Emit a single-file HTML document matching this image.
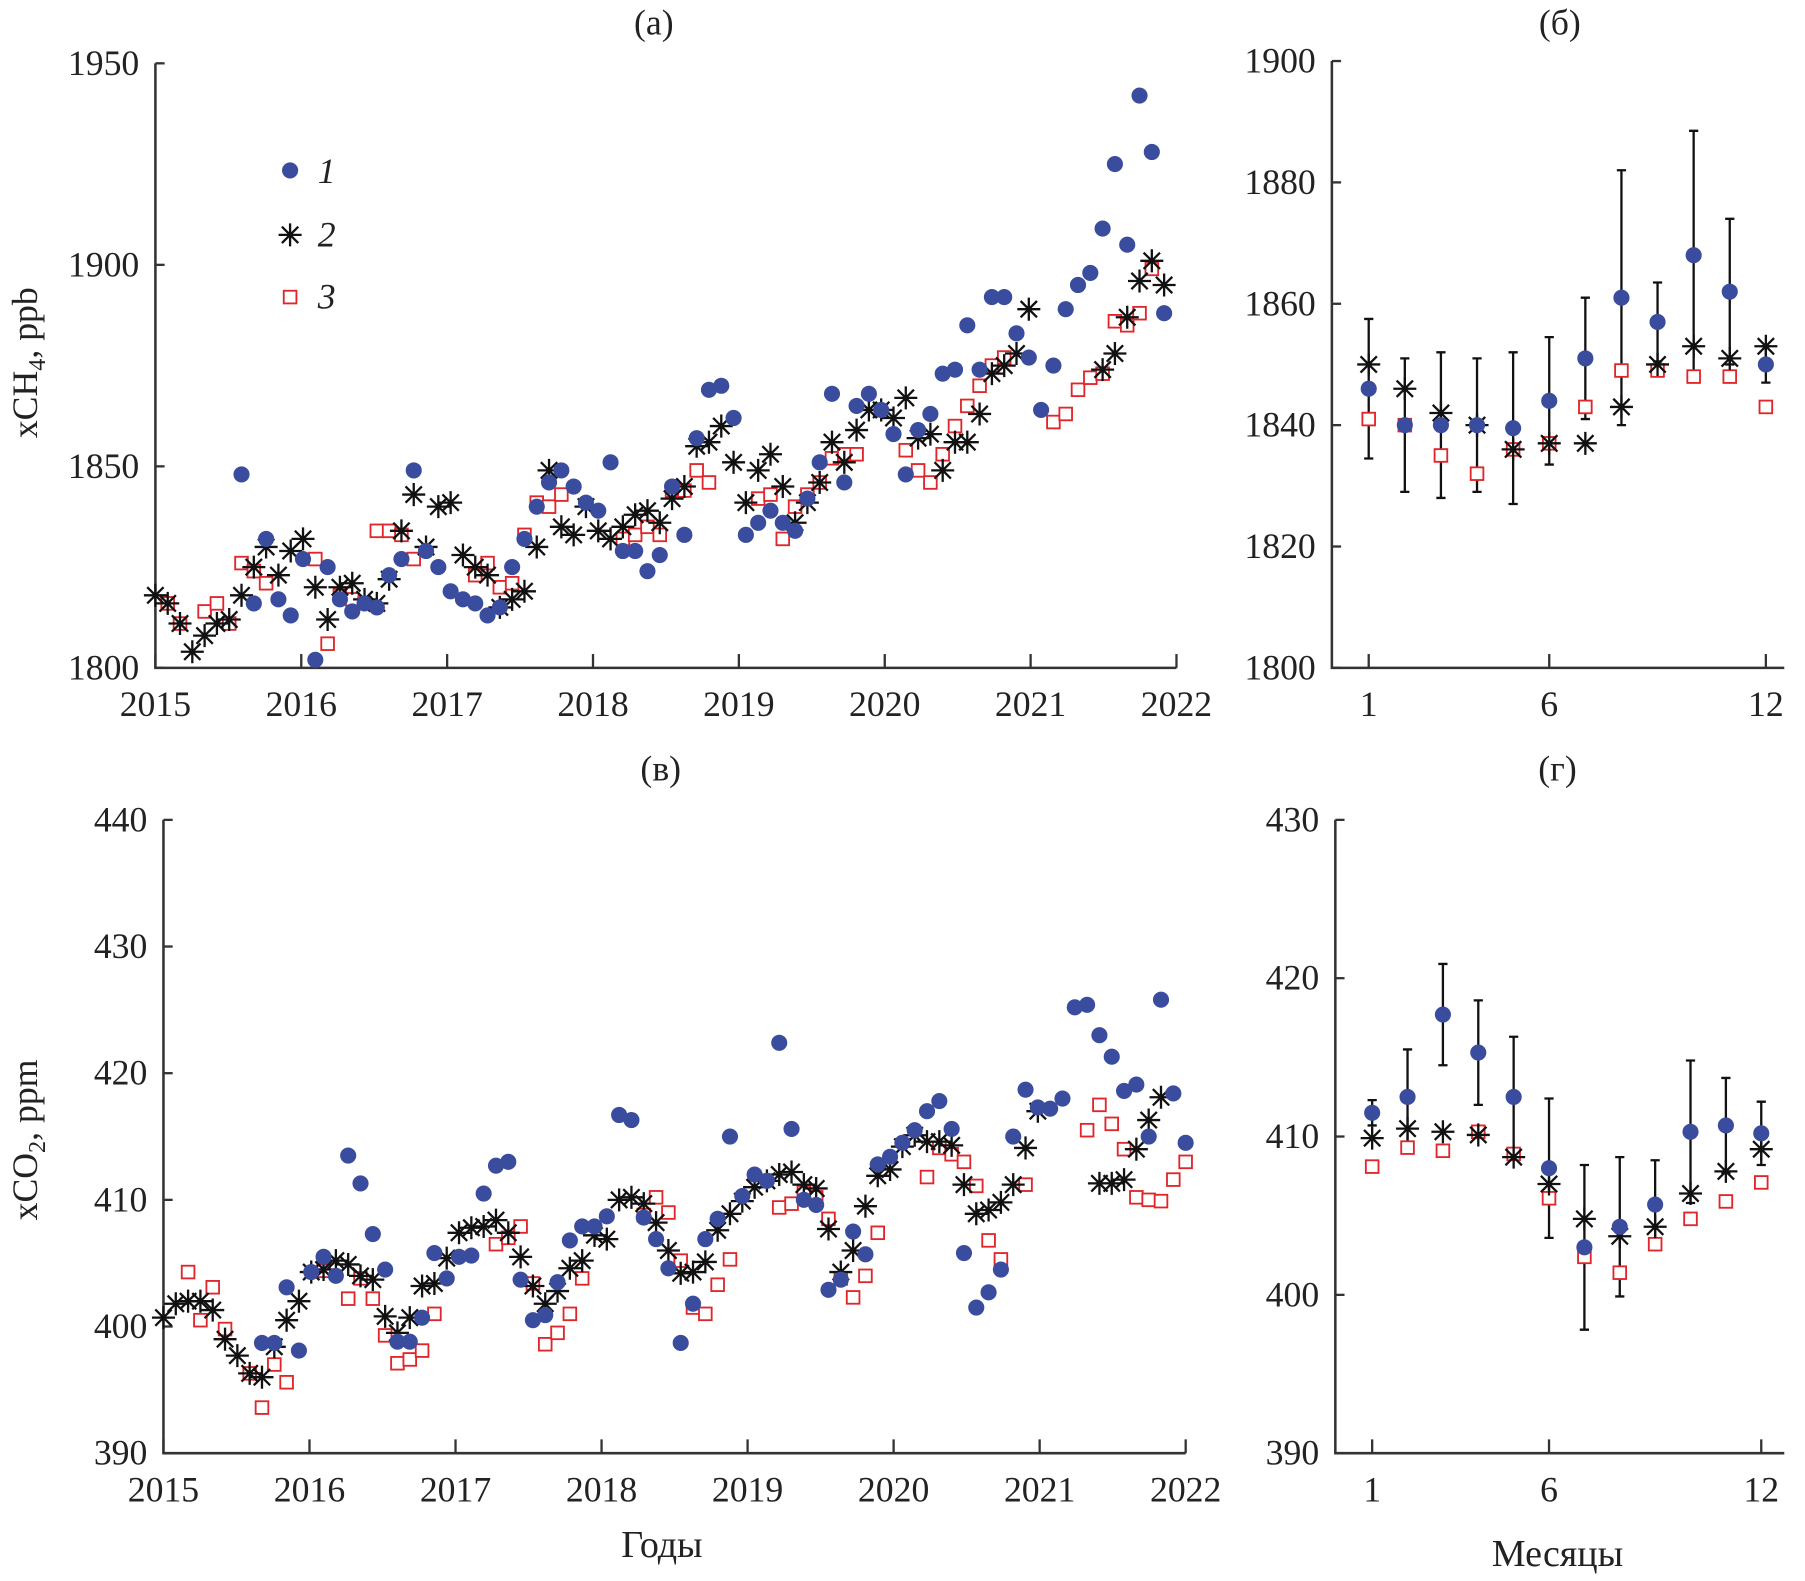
<!DOCTYPE html>
<html><head><meta charset="utf-8"><style>
html,body{margin:0;padding:0;background:#fff;}
svg{display:block;}
text{font-family:"Liberation Serif",serif;fill:#222;}
</style></head><body>
<svg id="chart" width="1805" height="1581" viewBox="0 0 1568 1373" preserveAspectRatio="none" xmlns="http://www.w3.org/2000/svg"></svg>
<script>
// ---- Data ----
const N = null;
const ch4Sat = [N,N,N,N,N,N,N,1848,1816,1832,1817,1813,1827,1802,1825,1817,1814,1816,1815,1823,1827,1849,1829,1825,1819,1817,1816,1813,1815,1825,1832,1840,1846,1849,1845,1841,1839,1851,1829,1829,1824,1828,1845,1833,1857,1869,1870,1862,1833,1836,1839,1836,1834,1842,1851,1868,1846,1865,1868,1864,1858,1848,1859,1863,1873,1874,1885,1874,1892,1892,1883,1877,1864,1875,1889,1895,1898,1909,1925,1905,1942,1928,1888,N];
const ch4Model = [1818,1816,1811,1804,1808,1811,1812,1818,1825,1830,1823,1829,1832,1820,1812,1820,1821,1817,1816,1822,1834,1843,1830,1840,1841,1828,1825,1823,1815,1817,1819,1830,1849,1835,1833,1840,1834,1832,1835,1838,1839,1836,1842,1845,1855,1856,1860,1851,1841,1849,1853,1845,1836,1841,1846,1856,1851,1859,1864,1864,1862,1867,1857,1858,1849,1856,1856,1863,1873,1875,1878,1889,N,N,N,N,N,1874,1878,1887,1896,1901,1895,N];
const ch4Ref = [N,1816,1811,N,1814,1816,1811,1826,1824,1821,N,N,N,1827,1806,1818,1817,1816,1834,1834,1833,1827,N,N,N,N,1823,1826,1820,1821,1833,1841,1840,1843,N,N,N,N,1832,1833,1835,1833,1844,1844,1849,1846,N,N,N,1842,1843,1832,1840,1843,1846,1852,1853,1853,N,N,N,1854,1849,1846,1853,1860,1865,1870,1875,1877,N,N,N,1861,1863,1869,1872,1873,1886,1885,1888,1899,N,N];
const months = [1,2,3,4,5,6,7,8,9,10,11,12];
const ch4MonSat = [1846,1840,1840,1840,1839.5,1844,1851,1861,1857,1868,1862,1850];
const ch4MonErr = [11.5,11,12,11,12.5,10.5,10,21,6.5,20.5,12,3];
const ch4MonModel = [1850,1846,1842,1840,1836,1837,1837,1843,1850,1853,1851,1853];
const ch4MonRef = [1841,1840,1835,1832,1836,1837,1843,1849,1849,1848,1848,1843];
const co2Sat = [N,N,N,N,N,N,N,N,398.7,398.7,403.1,398.1,404.3,405.5,404,413.5,411.3,407.3,404.5,398.8,398.8,400.7,405.8,403.8,405.5,405.6,410.5,412.7,413,403.7,400.5,400.9,403.5,406.8,407.9,407.9,408.7,416.7,416.3,408.6,406.9,404.6,398.7,401.8,406.9,408.5,415,410.3,412,411.5,422.4,415.6,410,409.6,402.9,403.7,407.5,405.7,412.8,413.4,414.5,415.5,417,417.8,415.6,405.8,401.5,402.7,404.5,415,418.7,417.3,417.2,418,425.2,425.4,423,421.3,418.6,419.1,415,425.8,418.4,414.5];
const co2Model = [400.7,401.8,402,402,401.3,399,397.7,396.3,396,398.4,400.5,402,404.3,404.5,405.2,404.9,404,403.7,400.8,399.5,400.7,403.2,403.4,405.4,407.4,407.8,407.9,408.4,407.4,405.5,403.2,401.8,402.8,404.6,405.2,407.2,406.9,410,410.2,409.7,408.2,406,404.2,404.3,405.1,407.6,408.9,409.9,411,411.5,412,412.2,411.2,410.9,407.7,404.3,406,409.5,411.9,412.4,414.2,415.1,414.6,414.6,414.3,411.2,408.9,409.2,409.8,411.2,414.1,417,N,N,N,N,411.3,411.3,411.6,414,416.3,418.1,N,N];
const co2Ref = [N,N,404.3,400.5,403.1,399.8,N,396.3,393.6,397,395.6,N,N,404.4,N,402.2,403.8,402.2,399.3,397.1,397.4,398.1,401,N,N,N,N,406.5,407,407.9,403.4,398.6,399.5,401,403.8,N,N,N,N,408.8,410.2,409,405.2,401.5,401,403.3,405.3,N,N,N,409.4,409.7,410.6,410.2,408.5,403.8,402.3,404,407.4,N,N,N,411.8,414.1,413.6,413,411.1,406.8,405.3,N,411.2,N,N,N,N,415.5,417.5,416,414,410.2,410,409.9,411.6,413];
const co2MonSat = [411.5,412.5,417.7,415.3,412.5,408,403,404.3,405.7,410.3,410.7,410.2];
const co2MonErr = [0.8,3,3.2,3.3,3.8,4.4,5.2,4.4,2.8,4.5,3,2];
const co2MonModel = [409.9,410.5,410.3,410.1,408.7,407,404.8,403.7,404.3,406.4,407.8,409.2];
const co2MonRef = [408.1,409.3,409.1,410.3,408.9,406.1,402.4,401.4,403.2,404.8,405.9,407.1];
const yearTicks = [2015,2016,2017,2018,2019,2020,2021,2022];
const monthTicks = [1,6,12];
const ch4Ticks = [1800,1850,1900,1950];
const ch4MonTicks = [1800,1820,1840,1860,1880,1900];
const co2Ticks = [390,400,410,420,430,440];
const co2MonTicks = [390,400,410,420,430];

const svg = document.getElementById('chart');
const NS = 'http://www.w3.org/2000/svg';
function mk(tag, attrs, parent){
  const e = document.createElementNS(NS, tag);
  for (const k in attrs) e.setAttribute(k, attrs[k]);
  (parent||svg).appendChild(e);
  return e;
}
const BLUE = '#3a4c9e', RED = '#e0262a';

function circle(g, x, y){
  const c = mk('circle',{cx:x,cy:y,r:7,fill:BLUE},g);
  
  
}
function star(g, x, y){
  const s = 10, d = 7.1;
  const p = mk('path',{d:`M${x-s},${y}H${x+s}M${x},${y-s}V${y+s}M${x-d},${y-d}L${x+d},${y+d}M${x-d},${y+d}L${x+d},${y-d}`,stroke:'#111','stroke-width':2,fill:'none'},g);
  
  
}
function square(g, x, y){
  const r = mk('rect',{x:x-5.5,y:y-5.5,width:11,height:11,fill:'#fff',stroke:RED,'stroke-width':1.6},g);
  
  
}

function panel(cfg){
  const g = mk('g',{});
  
  
  const sx = v => cfg.x0 + (v - cfg.xmin)/(cfg.xmax - cfg.xmin)*(cfg.x1 - cfg.x0);
  const sy = v => cfg.y0 + (v - cfg.ymin)/(cfg.ymax - cfg.ymin)*(cfg.y1 - cfg.y0);
  const ax = mk('path',{d:`M${cfg.axL},${cfg.axT}V${cfg.y0}H${cfg.axR}`,stroke:'#333','stroke-width':2.2,fill:'none'},g);
  
  
  cfg.yticks.forEach(v=>{
    const y = sy(v);
    mk('line',{x1:cfg.axL,x2:cfg.axL+8,y1:y,y2:y,stroke:'#333','stroke-width':2},g);
    const t = mk('text',{x:cfg.axL-14,y:y+10,'font-size':31,'text-anchor':'end'},g);
    t.textContent = v;
    
    
  });
  cfg.xticks.forEach(v=>{
    const x = sx(v);
    mk('line',{x1:x,x2:x,y1:cfg.y0,y2:cfg.y0-12,stroke:'#333','stroke-width':2},g);
    const t = mk('text',{x:x,y:cfg.y0+42,'font-size':31,'text-anchor':'middle'},g);
    t.textContent = v;
    
    
  });
  const tt = mk('text',{x:cfg.tx,y:cfg.ty,'font-size':31,'text-anchor':'middle'},g);
  tt.textContent = cfg.title;
  
  
  const xv = cfg.xs;
  if (cfg.err){
    cfg.s1.forEach((v,i)=>{
      if (v==null) return;
      const x = sx(xv[i]), yt = sy(v+cfg.err[i]), yb = sy(v-cfg.err[i]);
      const e = mk('path',{d:`M${x},${yt}V${yb}M${x-4},${yt}H${x+4}M${x-4},${yb}H${x+4}`,stroke:'#111','stroke-width':2,fill:'none'},g);
      
      
    });
  }
  cfg.s3.forEach((v,i)=>{ if(v!=null) square(g, sx(xv[i]), sy(v)); });
  cfg.s2.forEach((v,i)=>{ if(v!=null) star(g, sx(xv[i]), sy(v)); });
  cfg.s1.forEach((v,i)=>{ if(v!=null) circle(g, sx(xv[i]), sy(v)); });
}
const timeX = ch4Sat.map((_,i)=>2015 + i*1.012/12);

panel({name:'panel-a-ch4-series',title:'(а)',tx:568,ty:30,x0:135,x1:1022,xmin:2015,xmax:2022,y0:580,y1:55,ymin:1800,ymax:1950,axL:135,axT:55,axR:1022,yticks:ch4Ticks,xticks:yearTicks,xs:timeX,s1:ch4Sat,s2:ch4Model,s3:ch4Ref});
panel({name:'panel-b-ch4-monthly',title:'(б)',tx:1355,ty:30,x0:1189,x1:1534,xmin:1,xmax:12,y0:580,y1:53,ymin:1800,ymax:1900,axL:1157,axT:53,axR:1550,yticks:ch4MonTicks,xticks:monthTicks,xs:months,s1:ch4MonSat,s2:ch4MonModel,s3:ch4MonRef,err:ch4MonErr});
panel({name:'panel-c-co2-series',title:'(в)',tx:574,ty:678,x0:142,x1:1030,xmin:2015,xmax:2022,y0:1262,y1:712,ymin:390,ymax:440,axL:142,axT:712,axR:1030,yticks:co2Ticks,xticks:yearTicks,xs:timeX,s1:co2Sat,s2:co2Model,s3:co2Ref});
panel({name:'panel-d-co2-monthly',title:'(г)',tx:1353,ty:678,x0:1192,x1:1530,xmin:1,xmax:12,y0:1262,y1:712,ymin:390,ymax:430,axL:1160,axT:712,axR:1550,yticks:co2MonTicks,xticks:monthTicks,xs:months,s1:co2MonSat,s2:co2MonModel,s3:co2MonRef,err:co2MonErr});

// legend
const lg = mk('g',{});


circle(lg,252,148); star(lg,252,204); square(lg,252,258);
[['1',159],['2',214],['3',268]].forEach(([s,y])=>{
  const t = mk('text',{x:276,y:y,'font-size':31,'font-style':'italic'},lg);
  t.textContent = s;
  
  
});

// axis titles
const y1 = mk('text',{x:0,y:0,'font-size':31,'text-anchor':'middle',transform:'translate(32,315) rotate(-90)'});
y1.innerHTML = 'xCH<tspan font-size="21" dy="7">4</tspan><tspan dy="-7">, ppb</tspan>';


const y2 = mk('text',{x:0,y:0,'font-size':31,'text-anchor':'middle',transform:'translate(32,990) rotate(-90)'});
y2.innerHTML = 'xCO<tspan font-size="21" dy="7">2</tspan><tspan dy="-7">, ppm</tspan>';


const xa = mk('text',{x:575,y:1352,'font-size':33,'text-anchor':'middle'});
xa.textContent = 'Годы';


const xb = mk('text',{x:1353,y:1360,'font-size':33,'text-anchor':'middle'});
xb.textContent = 'Месяцы';


</script>
</body></html>
